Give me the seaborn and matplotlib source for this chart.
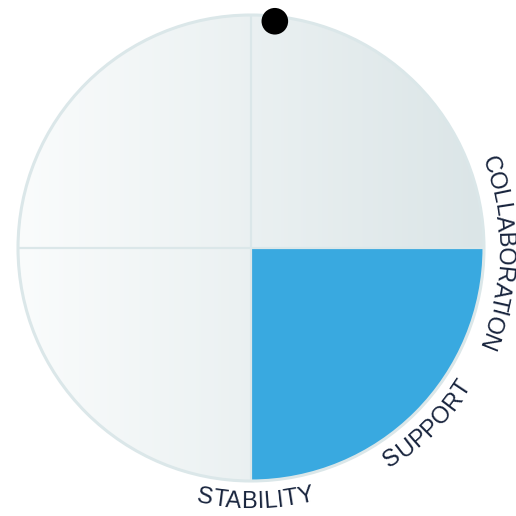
import numpy as np
import matplotlib
matplotlib.use("Agg")
import matplotlib.pyplot as plt
import seaborn as sns
from matplotlib.patches import Circle, Wedge
from matplotlib.font_manager import FontProperties
from matplotlib.textpath import text_to_path
from matplotlib.colors import LinearSegmentedColormap

# ---- data ----
labels = ["COLLABORATION", "SUPPORT", "STABILITY"]
label_angles = [-1.2, -45, -89]       # degrees, position of each label around the wheel
label_clockwise = [True, False, False]
quadrants = ["top-left", "top-right", "bottom-left", "bottom-right"]
quadrant_highlight = [0, 0, 0, 1]
marker_angle = 84                     # degrees

# ---- style ----
sns.set_theme(style="white")
plt.rcParams['font.family'] = ['Liberation Sans', 'DejaVu Sans']

BLUE = "#39a9e0"
EDGE = "#dbe7e9"
TEXT = "#18243d"
W = 516
R_PX = 233.0
CX, CY = 251.0, 248.0

fig = plt.figure(figsize=(5.16, 5.16), dpi=100)
ax = fig.add_axes([0, 0, 1, 1])
ax.set_xlim(-CX / R_PX, (W - CX) / R_PX)
ax.set_ylim(-(W - CY) / R_PX, CY / R_PX)
ax.set_aspect("equal")
ax.axis("off")

# gradient disc
cmap = LinearSegmentedColormap.from_list("g", ["#fafcfc", "#dbe5e7"])
grad = np.tile(np.linspace(0, 1, 256), (16, 1))
disc = Circle((0, 0), 1.0, transform=ax.transData)
im = ax.imshow(grad, extent=[-1, 1, -1, 1], cmap=cmap, origin="lower",
               interpolation="bilinear", aspect="auto", zorder=1)
im.set_clip_path(disc)

# highlighted quadrant(s)
quad_angles = {"top-left": (90, 180), "top-right": (0, 90),
               "bottom-left": (180, 270), "bottom-right": (270, 360)}
for q, h in zip(quadrants, quadrant_highlight):
    if h:
        a0, a1 = quad_angles[q]
        ax.add_patch(Wedge((0, 0), 1.0, a0, a1, facecolor=BLUE, edgecolor="none", zorder=2))

# dividers and outline
ax.plot([-1, 1], [0, 0], color=EDGE, lw=1.6, zorder=3, solid_capstyle="butt")
ax.plot([0, 0], [-1, 1], color=EDGE, lw=1.6, zorder=3, solid_capstyle="butt")
ax.add_patch(Circle((0, 0), 1.0, facecolor="none", edgecolor=EDGE, lw=2.2, zorder=4))

# curved labels
fs = 17
prop = FontProperties(family="Liberation Sans", size=fs)
pt2data = (100 / 72.0) / R_PX


def width(s):
    if not s:
        return 0.0
    w, h, d = text_to_path.get_text_width_height_descent(s, prop, ismath=False)
    return w * pt2data


for lab, ang, cw in zip(labels, label_angles, label_clockwise):
    L = width(lab)
    if cw:
        r_base = 247 / R_PX
        r_mid = 255 / R_PX
    else:
        r_base = 260 / R_PX
        r_mid = 252 / R_PX
    for i, ch in enumerate(lab):
        c = width(lab[:i + 1]) - width(ch) / 2
        off = (c - L / 2) / r_mid
        if cw:
            th = np.radians(ang) - off
            rot = np.degrees(th) - 90
        else:
            th = np.radians(ang) + off
            rot = np.degrees(th) + 90
        ax.text(r_base * np.cos(th), r_base * np.sin(th), ch, fontproperties=prop,
                color=TEXT, rotation=rot, rotation_mode="anchor",
                ha="center", va="baseline", zorder=5)

# marker dot
mr = 228 / R_PX
ax.add_patch(Circle((mr * np.cos(np.radians(marker_angle)), mr * np.sin(np.radians(marker_angle))),
                    13.3 / R_PX, facecolor="black", edgecolor="none", zorder=6))

fig.savefig("out.png", dpi=100, facecolor="white")
